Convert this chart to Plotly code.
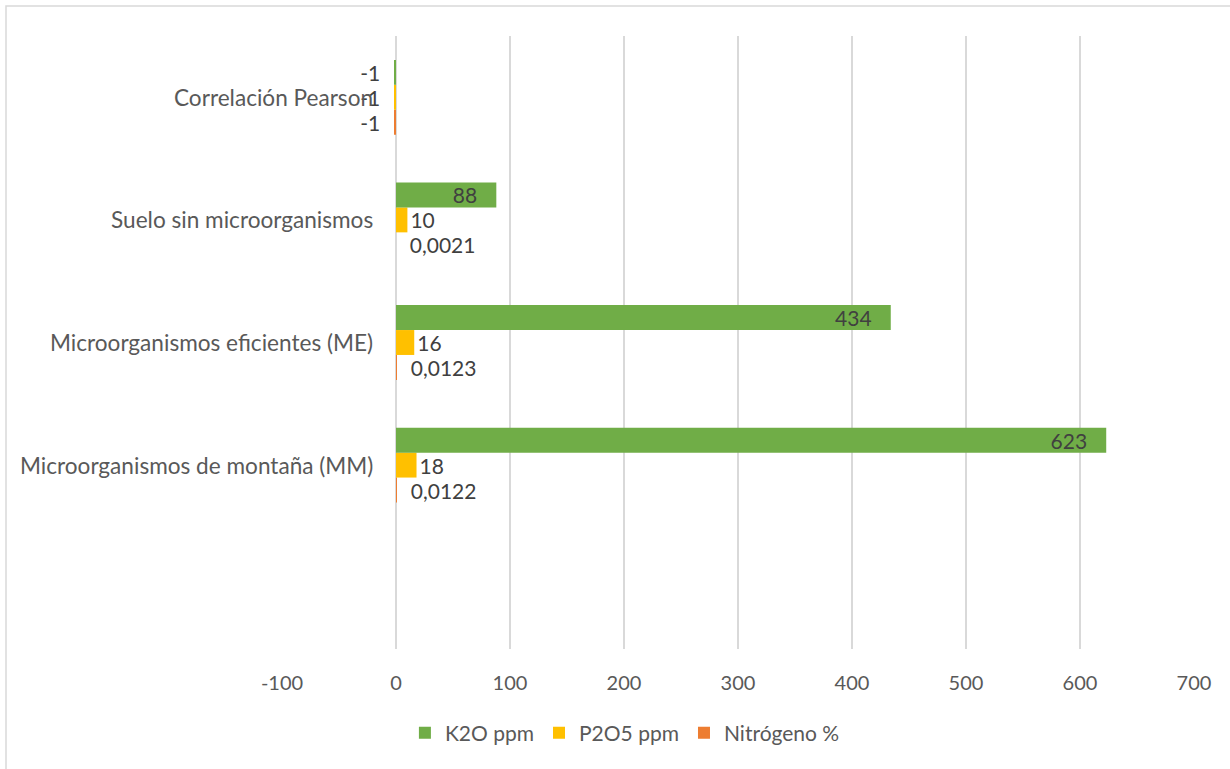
import plotly.graph_objects as go

# ---- data ----
categories = [" ", "Microorganismos de montaña (MM)", "Microorganismos eficientes (ME)",
              "Suelo sin microorganismos", "Correlación Pearson"]
k2o = [None, 623, 434, 88, -1]
p2o5 = [None, 18, 16, 10, -1]
nitrogeno = [None, 0.0122, 0.0123, 0.0021, -1]
x_ticks = [-100, 0, 100, 200, 300, 400, 500, 600, 700]

NB = "\u00a0"
FONT = "Lato"
FS = 21
LABEL_COLOR = "#404040"
AXIS_COLOR = "#595959"


def fmt(v, lead=0, trail_neg=0, trail_pos=0):
    if v is None:
        return ""
    s = ("%g" % v).replace(".", ",")
    if v < 0:
        return s + NB * trail_neg
    return NB * lead + s + NB * trail_pos


fig = go.Figure()

fig.add_trace(go.Bar(
    y=categories, x=nitrogeno, orientation="h", name="Nitrógeno %",
    marker=dict(color="#ED7D31", line=dict(width=0)),
    text=[fmt(v, lead=2, trail_neg=2) for v in nitrogeno],
    textposition="outside", cliponaxis=False,
    textfont=dict(family=FONT, size=FS, color=LABEL_COLOR),
    constraintext="none", hoverinfo="skip",
))
fig.add_trace(go.Bar(
    y=categories, x=p2o5, orientation="h", name="P2O5 ppm",
    marker=dict(color="#FFC000", line=dict(width=0)),
    text=[fmt(v, trail_neg=2) for v in p2o5],
    textposition="outside", cliponaxis=False,
    textfont=dict(family=FONT, size=FS, color=LABEL_COLOR),
    constraintext="none", hoverinfo="skip",
))
fig.add_trace(go.Bar(
    y=categories, x=k2o, orientation="h", name="K2O ppm",
    marker=dict(color="#70AD47", line=dict(width=0)),
    text=[fmt(v, trail_neg=2, trail_pos=3) for v in k2o],
    textposition=["inside" if (v is not None and v > 0) else "outside" for v in k2o],
    insidetextanchor="end", cliponaxis=False,
    textfont=dict(family=FONT, size=FS, color=LABEL_COLOR),
    insidetextfont=dict(family=FONT, size=FS, color=LABEL_COLOR),
    outsidetextfont=dict(family=FONT, size=FS, color=LABEL_COLOR),
    constraintext="none", hoverinfo="skip",
))

# category labels placed next to the zero line (as in the original)
for c in categories:
    if c.strip():
        fig.add_annotation(x=0, y=c, xref="x", yref="y", text=c, showarrow=False,
                           xanchor="right", yanchor="middle", xshift=-21,
                           font=dict(family=FONT, size=22.6, color=AXIS_COLOR))

# light frame around the chart
W, H = 1230, 769
L, R, T, B = 282, 36, 36, 120
pw, ph = W - L - R, H - T - B
fig.add_shape(type="rect", xref="paper", yref="paper",
              x0=(6 - L) / pw, x1=(W + 10 - L) / pw,
              y0=(H - B - (H + 10)) / ph, y1=(H - B - 6) / ph,
              line=dict(color="#D9D9D9", width=1.5), fillcolor="rgba(0,0,0,0)", layer="below")

fig.update_layout(
    width=W, height=H,
    margin=dict(l=L, r=R, t=T, b=B),
    paper_bgcolor="white", plot_bgcolor="white",
    barmode="group", bargap=0.39, bargroupgap=0,
    font=dict(family=FONT, size=FS, color=AXIS_COLOR),
    showlegend=True,
    legend=dict(orientation="h", x=0.376, xanchor="center", y=-0.137, yanchor="middle",
                traceorder="reversed", font=dict(family=FONT, size=FS, color=AXIS_COLOR),
                bgcolor="rgba(0,0,0,0)"),
    xaxis=dict(range=[-100, 700], tickvals=x_ticks, ticktext=[str(t) for t in x_ticks],
               showgrid=True, gridcolor="#D9D9D9", gridwidth=1.5,
               zeroline=False, showline=False, ticks="", ticklabelstandoff=20,
               tickfont=dict(family=FONT, size=20, color=AXIS_COLOR), fixedrange=True),
    yaxis=dict(type="category", categoryorder="array", categoryarray=categories,
               range=[-0.5, 4.5], showticklabels=False, showgrid=False,
               zeroline=False, showline=False, ticks="", fixedrange=True),
)

fig.write_html("out.html")
